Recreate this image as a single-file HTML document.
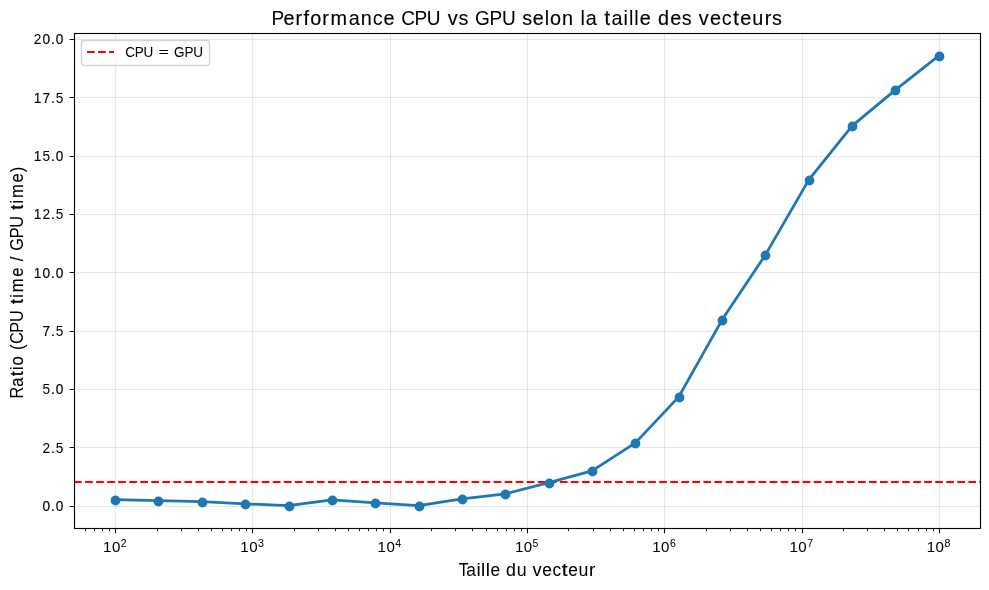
<!DOCTYPE html><html><head><meta charset="utf-8"><title>Performance CPU vs GPU</title><style>html,body{margin:0;padding:0;background:#fff;overflow:hidden}svg{display:block;will-change:transform}text{font-family:"Liberation Sans", sans-serif;fill:#000}</style></head><body>
<svg width="989" height="590" viewBox="0 0 989 590">
<rect width="989" height="590" fill="#fff"/>
<path d="M74.03 506.5H980.00M74.03 447.5H980.00M74.03 389.5H980.00M74.03 331.5H980.00M74.03 272.5H980.00M74.03 214.5H980.00M74.03 156.5H980.00M74.03 97.5H980.00M74.03 39.5H980.00" stroke="#b0b0b0" stroke-opacity="0.3" stroke-width="1.111" fill="none"/>
<path d="M115.5 33.33V528.12M252.5 33.33V528.12M390.5 33.33V528.12M527.5 33.33V528.12M664.5 33.33V528.12M802.5 33.33V528.12M939.5 33.33V528.12" stroke="#b0b0b0" stroke-opacity="0.3" stroke-width="1.170" fill="none"/>
<path d="M74.03 505.5H980.00M74.03 507.5H980.00M74.03 446.5H980.00M74.03 448.5H980.00M74.03 388.5H980.00M74.03 390.5H980.00M74.03 330.5H980.00M74.03 332.5H980.00M74.03 271.5H980.00M74.03 273.5H980.00M74.03 213.5H980.00M74.03 215.5H980.00M74.03 155.5H980.00M74.03 157.5H980.00M74.03 96.5H980.00M74.03 98.5H980.00M74.03 38.5H980.00M74.03 40.5H980.00" stroke="#b0b0b0" stroke-opacity="0.0250" stroke-width="1" fill="none"/>
<path d="M74.03 480.5H980.00M74.03 483.5H980.00" stroke="#ff0000" stroke-opacity="0.043" stroke-width="1" stroke-dasharray="7.708 3.333" fill="none"/>
<path d="M74.03 482H980.00" stroke="#ff0000" stroke-width="2.083" stroke-dasharray="7.708 3.333" fill="none"/>
<path d="M115.208 499.681 L158.292 500.702 L201.886 501.722 L245.194 503.852 L288.568 505.632 L331.937 499.851 L375.291 502.872 L418.641 505.632 L461.992 498.871 L505.340 493.851 L548.687 482.700 L592.036 470.850 L635.384 442.848 L678.732 396.845 L722.080 319.840 L765.428 254.836 L808.776 179.831 L852.124 125.828 L895.471 89.826 L938.819 55.824" stroke="#1f77b4" stroke-width="2.800" stroke-linejoin="round" stroke-linecap="square" fill="none"/>
<circle cx="115.5" cy="500.5" r="4.200" fill="#1f77b4" stroke="#1f77b4" stroke-width="1.389"/>
<circle cx="158.5" cy="501.5" r="4.200" fill="#1f77b4" stroke="#1f77b4" stroke-width="1.389"/>
<circle cx="202.5" cy="502.5" r="4.200" fill="#1f77b4" stroke="#1f77b4" stroke-width="1.389"/>
<circle cx="245.5" cy="504.5" r="4.200" fill="#1f77b4" stroke="#1f77b4" stroke-width="1.389"/>
<circle cx="289.5" cy="506.5" r="4.200" fill="#1f77b4" stroke="#1f77b4" stroke-width="1.389"/>
<circle cx="332.5" cy="500.5" r="4.200" fill="#1f77b4" stroke="#1f77b4" stroke-width="1.389"/>
<circle cx="375.5" cy="503.5" r="4.200" fill="#1f77b4" stroke="#1f77b4" stroke-width="1.389"/>
<circle cx="419.5" cy="506.5" r="4.200" fill="#1f77b4" stroke="#1f77b4" stroke-width="1.389"/>
<circle cx="462.5" cy="499.5" r="4.200" fill="#1f77b4" stroke="#1f77b4" stroke-width="1.389"/>
<circle cx="505.5" cy="494.5" r="4.200" fill="#1f77b4" stroke="#1f77b4" stroke-width="1.389"/>
<circle cx="549.5" cy="483.5" r="4.200" fill="#1f77b4" stroke="#1f77b4" stroke-width="1.389"/>
<circle cx="592.5" cy="471.5" r="4.200" fill="#1f77b4" stroke="#1f77b4" stroke-width="1.389"/>
<circle cx="635.5" cy="443.5" r="4.200" fill="#1f77b4" stroke="#1f77b4" stroke-width="1.389"/>
<circle cx="679.5" cy="397.5" r="4.200" fill="#1f77b4" stroke="#1f77b4" stroke-width="1.389"/>
<circle cx="722.5" cy="320.5" r="4.200" fill="#1f77b4" stroke="#1f77b4" stroke-width="1.389"/>
<circle cx="765.5" cy="255.5" r="4.200" fill="#1f77b4" stroke="#1f77b4" stroke-width="1.389"/>
<circle cx="809.5" cy="180.5" r="4.200" fill="#1f77b4" stroke="#1f77b4" stroke-width="1.389"/>
<circle cx="852.5" cy="126.5" r="4.200" fill="#1f77b4" stroke="#1f77b4" stroke-width="1.389"/>
<circle cx="895.5" cy="90.5" r="4.200" fill="#1f77b4" stroke="#1f77b4" stroke-width="1.389"/>
<circle cx="939.5" cy="56.5" r="4.200" fill="#1f77b4" stroke="#1f77b4" stroke-width="1.389"/>
<path d="M74.5 33.5V528.5M980.5 33.5V528.5M74.5 33.5H980.5M74.5 528.5H980.5" stroke="#000" stroke-width="1.111" stroke-linecap="square" fill="none"/>
<path d="M74 32.5H981M74 34.5H981M74 527.5H981M74 529.5H981" stroke="#000" stroke-opacity="0.0555" stroke-width="1" fill="none"/>
<path d="M69.64 506.5H74.5M69.64 447.5H74.5M69.64 389.5H74.5M69.64 331.5H74.5M69.64 272.5H74.5M69.64 214.5H74.5M69.64 156.5H74.5M69.64 97.5H74.5M69.64 39.5H74.5M115.5 528.5V533.36M252.5 528.5V533.36M390.5 528.5V533.36M527.5 528.5V533.36M664.5 528.5V533.36M802.5 528.5V533.36M939.5 528.5V533.36" stroke="#000" stroke-width="1.111" fill="none"/>
<path d="M85.5 528.5V531.28M94.5 528.5V531.28M102.5 528.5V531.28M109.5 528.5V531.28M157.5 528.5V531.28M181.5 528.5V531.28M198.5 528.5V531.28M211.5 528.5V531.28M222.5 528.5V531.28M231.5 528.5V531.28M239.5 528.5V531.28M246.5 528.5V531.28M294.5 528.5V531.28M318.5 528.5V531.28M335.5 528.5V531.28M348.5 528.5V531.28M359.5 528.5V531.28M368.5 528.5V531.28M376.5 528.5V531.28M383.5 528.5V531.28M431.5 528.5V531.28M455.5 528.5V531.28M472.5 528.5V531.28M486.5 528.5V531.28M497.5 528.5V531.28M506.5 528.5V531.28M514.5 528.5V531.28M521.5 528.5V531.28M568.5 528.5V531.28M593.5 528.5V531.28M610.5 528.5V531.28M623.5 528.5V531.28M634.5 528.5V531.28M643.5 528.5V531.28M651.5 528.5V531.28M658.5 528.5V531.28M706.5 528.5V531.28M730.5 528.5V531.28M747.5 528.5V531.28M760.5 528.5V531.28M771.5 528.5V531.28M780.5 528.5V531.28M788.5 528.5V531.28M795.5 528.5V531.28M843.5 528.5V531.28M867.5 528.5V531.28M884.5 528.5V531.28M897.5 528.5V531.28M908.5 528.5V531.28M918.5 528.5V531.28M926.5 528.5V531.28M933.5 528.5V531.28" stroke="#000" stroke-width="0.833" fill="none"/>
<text transform="translate(41.97 510.50) scale(0.9238 1)" x="0.67 9.90 15.01" y="0" font-size="14.79" stroke="#000" stroke-width="0.085"><tspan stroke-width="0.185">0</tspan><tspan stroke-width="0.235">.</tspan><tspan stroke-width="0.185">0</tspan></text>
<text transform="translate(41.97 452.50) scale(0.9238 1)" x="0.67 9.90 15.01" y="0" font-size="14.79" stroke="#000" stroke-width="0.085"><tspan stroke-width="0.033">2</tspan><tspan stroke-width="0.235">.</tspan><tspan stroke-width="0.000">5</tspan></text>
<text transform="translate(41.97 393.50) scale(0.9238 1)" x="0.67 9.90 15.01" y="0" font-size="14.79" stroke="#000" stroke-width="0.085"><tspan stroke-width="0.000">5</tspan><tspan stroke-width="0.235">.</tspan><tspan stroke-width="0.185">0</tspan></text>
<text transform="translate(41.97 335.50) scale(0.9238 1)" x="0.67 9.90 15.01" y="0" font-size="14.79" stroke="#000" stroke-width="0.085"><tspan stroke-width="0.150">7</tspan><tspan stroke-width="0.235">.</tspan><tspan stroke-width="0.000">5</tspan></text>
<text transform="translate(33.13 277.50) scale(0.9238 1)" x="0.67 10.23 19.47 24.58" y="0" font-size="14.79" stroke="#000" stroke-width="0.085"><tspan stroke-width="0.113">1</tspan><tspan stroke-width="0.185">0</tspan><tspan stroke-width="0.235">.</tspan><tspan stroke-width="0.185">0</tspan></text>
<text transform="translate(33.13 218.50) scale(0.9238 1)" x="0.67 10.23 19.47 24.58" y="0" font-size="14.79" stroke="#000" stroke-width="0.085"><tspan stroke-width="0.113">1</tspan><tspan stroke-width="0.033">2</tspan><tspan stroke-width="0.235">.</tspan><tspan stroke-width="0.000">5</tspan></text>
<text transform="translate(33.13 160.50) scale(0.9238 1)" x="0.67 10.23 19.47 24.58" y="0" font-size="14.79" stroke="#000" stroke-width="0.085"><tspan stroke-width="0.113">1</tspan><tspan stroke-width="0.000">5</tspan><tspan stroke-width="0.235">.</tspan><tspan stroke-width="0.185">0</tspan></text>
<text transform="translate(33.13 102.50) scale(0.9238 1)" x="0.67 10.23 19.47 24.58" y="0" font-size="14.79" stroke="#000" stroke-width="0.085"><tspan stroke-width="0.113">1</tspan><tspan stroke-width="0.150">7</tspan><tspan stroke-width="0.235">.</tspan><tspan stroke-width="0.000">5</tspan></text>
<text transform="translate(33.13 43.50) scale(0.9238 1)" x="0.67 10.23 19.47 24.58" y="0" font-size="14.79" stroke="#000" stroke-width="0.085"><tspan stroke-width="0.033">2</tspan><tspan stroke-width="0.185">0</tspan><tspan stroke-width="0.235">.</tspan><tspan stroke-width="0.185">0</tspan></text>
<text transform="translate(102.86 551.89) scale(0.9747 1)" x="0.23 9.29" y="0" font-size="15.49" stroke="#000" stroke-width="0.030">10</text>
<text transform="translate(102.86 546.58) scale(0.9747 1)" x="18.43" y="0" font-size="10.84" stroke="#000" stroke-width="0.030">2</text>
<text transform="translate(240.13 551.89) scale(0.9747 1)" x="0.23 9.29" y="0" font-size="15.49" stroke="#000" stroke-width="0.030">10</text>
<text transform="translate(240.13 546.58) scale(0.9747 1)" x="18.43" y="0" font-size="10.84" stroke="#000" stroke-width="0.030">3</text>
<text transform="translate(377.40 551.90) scale(0.9747 1)" x="0.23 9.29" y="0" font-size="15.49" stroke="#000" stroke-width="0.030">10</text>
<text transform="translate(377.40 546.59) scale(0.9747 1)" x="18.43" y="0" font-size="10.84" stroke="#000" stroke-width="0.030">4</text>
<text transform="translate(514.67 551.90) scale(0.9747 1)" x="0.23 9.29" y="0" font-size="15.49" stroke="#000" stroke-width="0.030">10</text>
<text transform="translate(514.67 546.59) scale(0.9747 1)" x="18.43" y="0" font-size="10.84" stroke="#000" stroke-width="0.030">5</text>
<text transform="translate(651.94 551.89) scale(0.9747 1)" x="0.23 9.29" y="0" font-size="15.49" stroke="#000" stroke-width="0.030">10</text>
<text transform="translate(651.94 546.58) scale(0.9747 1)" x="18.43" y="0" font-size="10.84" stroke="#000" stroke-width="0.030">6</text>
<text transform="translate(789.20 551.90) scale(0.9747 1)" x="0.23 9.29" y="0" font-size="15.49" stroke="#000" stroke-width="0.030">10</text>
<text transform="translate(789.20 546.59) scale(0.9747 1)" x="18.43" y="0" font-size="10.84" stroke="#000" stroke-width="0.030">7</text>
<text transform="translate(926.47 551.89) scale(0.9747 1)" x="0.23 9.29" y="0" font-size="15.49" stroke="#000" stroke-width="0.030">10</text>
<text transform="translate(926.47 546.58) scale(0.9747 1)" x="18.43" y="0" font-size="10.84" stroke="#000" stroke-width="0.030">8</text>
<text transform="translate(271.91 24.70) scale(0.9534 1)" x="-0.51 12.05 24.84 33.19 40.13 52.88 61.45 80.51 93.22 105.88 117.18 129.59 135.63 149.45 162.51 177.54 184.50 195.85 206.72 212.98 228.14 241.21 256.23 262.48 273.48 286.06 291.66 304.36 316.96 323.62 329.22 341.61 348.85 356.20 368.76 374.43 380.09 385.73 398.14 404.96 417.70 429.87 440.74 447.71 459.43 471.90 483.81 491.19 503.93 516.90 524.67" y="0" font-size="20.81" stroke="#000" stroke-width="0.145"><tspan font-size="19.97" stroke-width="0.015">P</tspan><tspan stroke-width="0.202">e</tspan><tspan stroke-width="0.179">r</tspan><tspan stroke-width="0.193">f</tspan><tspan stroke-width="0.166">o</tspan><tspan stroke-width="0.179">r</tspan><tspan stroke-width="0.137">m</tspan><tspan stroke-width="0.119">a</tspan><tspan stroke-width="0.124">n</tspan><tspan stroke-width="0.000">c</tspan><tspan stroke-width="0.202">e</tspan> <tspan font-size="19.97" stroke-width="0.000">C</tspan><tspan font-size="19.97" stroke-width="0.015">P</tspan><tspan font-size="19.97" stroke-width="0.069">U</tspan> <tspan stroke-width="0.153">v</tspan><tspan stroke-width="0.090">s</tspan> <tspan font-size="19.97" stroke-width="0.002">G</tspan><tspan font-size="19.97" stroke-width="0.015">P</tspan><tspan font-size="19.97" stroke-width="0.069">U</tspan> <tspan stroke-width="0.090">s</tspan><tspan stroke-width="0.202">e</tspan><tspan stroke-width="0.051">l</tspan><tspan stroke-width="0.166">o</tspan><tspan stroke-width="0.124">n</tspan> <tspan stroke-width="0.051">l</tspan><tspan stroke-width="0.119">a</tspan> <tspan stroke-width="0.299">t</tspan><tspan stroke-width="0.119">a</tspan><tspan stroke-width="0.077">i</tspan><tspan stroke-width="0.051">ll</tspan><tspan stroke-width="0.202">e</tspan> d<tspan stroke-width="0.202">e</tspan><tspan stroke-width="0.090">s</tspan> <tspan stroke-width="0.153">v</tspan><tspan stroke-width="0.202">e</tspan><tspan stroke-width="0.000">c</tspan><tspan stroke-width="0.299">t</tspan><tspan stroke-width="0.202">e</tspan><tspan stroke-width="0.107">u</tspan><tspan stroke-width="0.179">r</tspan><tspan stroke-width="0.090">s</tspan></text>
<text transform="translate(458.63 575.95) scale(1.0034 1)" y="0" font-size="17.75" stroke="#000" stroke-width="0.035"><tspan x="0.12" textLength="9.91" lengthAdjust="spacingAndGlyphs" font-size="18.46" stroke-width="0.000">T</tspan><tspan x="7.69" textLength="9.60" lengthAdjust="spacingAndGlyphs" stroke-width="0.000">a</tspan><tspan x="17.78" textLength="4.22" lengthAdjust="spacingAndGlyphs" stroke-width="0.005">i</tspan><tspan x="22.40" textLength="4.22" lengthAdjust="spacingAndGlyphs" stroke-width="0.029">l</tspan><tspan x="27.01" textLength="4.22" lengthAdjust="spacingAndGlyphs" stroke-width="0.029">l</tspan><tspan x="31.72" textLength="9.63" lengthAdjust="spacingAndGlyphs" stroke-width="0.051">e</tspan> <tspan x="47.27" textLength="9.86" lengthAdjust="spacingAndGlyphs" stroke-width="0.084">d</tspan><tspan x="57.81" textLength="9.85" lengthAdjust="spacingAndGlyphs" stroke-width="0.014">u</tspan> <tspan x="73.64" textLength="9.11" lengthAdjust="spacingAndGlyphs" stroke-width="0.036">v</tspan><tspan x="83.40" textLength="9.63" lengthAdjust="spacingAndGlyphs" stroke-width="0.051">e</tspan><tspan x="93.58" textLength="8.62" lengthAdjust="spacingAndGlyphs" stroke-width="0.000">c</tspan><tspan x="102.82" textLength="5.78" lengthAdjust="spacingAndGlyphs" stroke-width="0.195">t</tspan><tspan x="109.26" textLength="9.63" lengthAdjust="spacingAndGlyphs" stroke-width="0.051">e</tspan><tspan x="119.53" textLength="9.85" lengthAdjust="spacingAndGlyphs" stroke-width="0.014">u</tspan><tspan x="130.00" textLength="6.26" lengthAdjust="spacingAndGlyphs" stroke-width="0.122">r</tspan></text>
<text transform="translate(23.25 398.47) rotate(-90) scale(0.9373 1)" x="-0.14 12.47 23.87 30.32 35.27 46.00 51.81 58.13 70.18 81.57 94.75 101.06 107.51 113.22 129.81 140.57 146.40 152.22 157.60 170.82 182.21 195.39 201.70 208.15 213.86 230.45 241.37" y="0" font-size="17.75" stroke="#000" stroke-width="0.155"><tspan font-size="17.48" stroke-width="0.000">R</tspan><tspan stroke-width="0.049">a</tspan><tspan stroke-width="0.327">t</tspan><tspan stroke-width="0.000">i</tspan><tspan stroke-width="0.229">o</tspan> <tspan stroke-width="0.040">(</tspan><tspan font-size="17.48" stroke-width="0.000">CP</tspan><tspan font-size="17.48" stroke-width="0.040">U</tspan> <tspan stroke-width="0.327">t</tspan><tspan stroke-width="0.000">i</tspan><tspan stroke-width="0.187">m</tspan><tspan stroke-width="0.206">e</tspan> <tspan stroke-width="0.180">/</tspan> <tspan font-size="17.48" stroke-width="0.015">G</tspan><tspan font-size="17.48" stroke-width="0.000">P</tspan><tspan font-size="17.48" stroke-width="0.040">U</tspan> <tspan stroke-width="0.327">t</tspan><tspan stroke-width="0.000">i</tspan><tspan stroke-width="0.187">m</tspan><tspan stroke-width="0.206">e</tspan><tspan stroke-width="0.000">)</tspan></text>
<rect x="81.50" y="40.50" width="128.00" height="25.00" rx="2.78" ry="2.78" fill="#fff" fill-opacity="0.8" stroke="#cccccc" stroke-opacity="0.8" stroke-width="1.389"/>
<path d="M87 52H114" stroke="#ff0000" stroke-width="2.083" stroke-dasharray="7.708 3.333" fill="none"/>
<text transform="translate(125.29 57.00) scale(0.8754 1)" x="-0.05 10.70 20.87 32.61 37.97 50.95 55.77 67.56 77.72" y="0" font-size="15.63" stroke="#000" stroke-width="0.365"><tspan font-size="15.47" stroke-width="0.000">C</tspan><tspan font-size="15.47" stroke-width="0.009">P</tspan><tspan font-size="15.47" stroke-width="0.053">U</tspan> <tspan y="-1.00" font-size="12.50" stroke-width="0.050" textLength="11.96" lengthAdjust="spacingAndGlyphs">=</tspan><tspan y="0"> </tspan><tspan font-size="15.47" stroke-width="0.043">G</tspan><tspan font-size="15.47" stroke-width="0.009">P</tspan><tspan font-size="15.47" stroke-width="0.053">U</tspan></text>
</svg></body></html>
